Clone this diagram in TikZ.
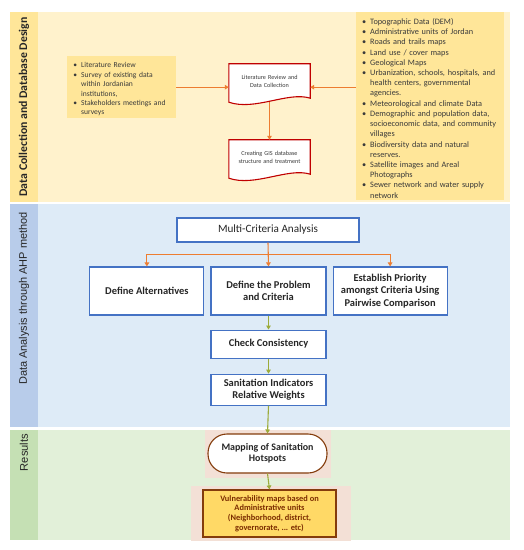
\documentclass[tikz,border=0pt]{standalone}
\usepackage{fontspec}
\setmainfont{Carlito}
\newfontfamily\arialfont{Liberation Sans}
\usepackage{enumitem}
\usetikzlibrary{positioning}
\usetikzlibrary{calc}
\usetikzlibrary{arrows.meta}

\definecolor{bandyellow}{HTML}{FFF2CC}
\definecolor{stripyellow}{HTML}{FFE699}
\definecolor{bandblue}{HTML}{DEEBF7}
\definecolor{stripblue}{HTML}{B8CCEA}
\definecolor{bandgreen}{HTML}{E2F0D9}
\definecolor{stripgreen}{HTML}{C5E0B4}
\definecolor{edgeorange}{HTML}{ED7D31}
\definecolor{edgeolive}{HTML}{9CAB3A}
\definecolor{boxblue}{HTML}{4472C4}
\definecolor{docred}{HTML}{C00000}
\definecolor{hotbrown}{HTML}{843C0C}
\definecolor{vulnfill}{HTML}{FFD966}
\definecolor{vulntext}{HTML}{7B2C00}
\definecolor{glowpink}{HTML}{F3E0D6}
\definecolor{textgray}{HTML}{3A3A3A}
\definecolor{textdark}{HTML}{262626}

\pgfdeclarelayer{back}
\pgfsetlayers{back,main}

\newlist{srclist}{itemize}{1}
\setlist[srclist]{label=\textbullet, leftmargin=8bp, labelsep=4bp, itemsep=0pt, parsep=0pt, topsep=0pt, partopsep=0pt}

\tikzset{
  srcbox/.style={fill=stripyellow, text=textgray, anchor=north west, inner xsep=6bp, inner ysep=2bp},
  docbox/.style={draw=none, minimum width=81bp, minimum height=34bp, text width=79bp, align=center, text=textgray, font=\fontsize{6.2}{8}\selectfont, inner sep=0pt},
  docline/.style={draw=docred, line width=1.1bp, fill=white},
  ahpbox/.style={draw=boxblue, line width=1.1bp, fill=white, align=center, text=textdark, inner sep=1bp, font=\bfseries\fontsize{10.5}{12.3}\selectfont},
  bandtitle/.style={rotate=90, text=textdark},
  orangeedge/.style={draw=edgeorange, line width=1.1bp, -{Triangle[width=4.5bp,length=4bp]}},
  oliveedge/.style={draw=edgeolive, line width=1.1bp, -{Triangle[width=4.5bp,length=4bp]}},
}

\begin{document}
\begin{tikzpicture}[x=1bp, y=-1bp]

    \useasboundingbox (0,0) rectangle (524,550) ; %

    % bands
    \begin{pgfonlayer}{back}
    \fill[bandyellow] (10,12) rectangle (510,202.5) ; %
    \fill[stripyellow] (10,12) rectangle (38,202.5) ; %
    \fill[bandblue] (10,204) rectangle (510,427) ; %
    \fill[stripblue] (10,204) rectangle (38,427) ; %
    \fill[bandgreen] (10,430) rectangle (510,540) ; %
    \fill[stripgreen] (10,430) rectangle (38,540) ; %
    \end{pgfonlayer}

    \node[bandtitle, font=\bfseries\fontsize{11.8}{13}\selectfont] (title_data) at (24,107) {Data Collection and Database Design} ; %
    \node[bandtitle, font=\arialfont\fontsize{11}{12}\selectfont] (title_ahp) at (24,298.5) {Data Analysis through AHP method} ; %
    \node[bandtitle, font=\arialfont\fontsize{11.2}{13}\selectfont] (title_res) at (24,452.5) {Results} ; %

    % data collection
    \node[srcbox, text width=97bp, minimum height=57bp, font=\fontsize{7.6}{9.5}\selectfont] (src_left) at (67,56) {%
      \begin{srclist}
        \item Literature Review
        \item Survey of existing data\newline within Jordanian\newline institutions,
        \item Stakeholders meetings and\newline surveys
      \end{srclist}} ; %
    \node[srcbox, text width=136bp, minimum height=188bp, font=\fontsize{8.3}{10.25}\selectfont] (src_right) at (356,12) {%
      \begin{srclist}
        \item Topographic Data (DEM)
        \item Administrative units of Jordan
        \item Roads and trails maps
        \item Land use / cover maps
        \item Geological Maps
        \item Urbanization, schools, hospitals, and\newline health centers, governmental\newline agencies.
        \item Meteorological and climate Data
        \item Demographic and population data,\newline socioeconomic data, and community\newline villages
        \item Biodiversity data and natural\newline reserves.
        \item Satellite images and Areal\newline Photographs
        \item Sewer network and water supply\newline network
      \end{srclist}} ; %

    \node[docbox] (litrev) at (269.5,81) {Literature Review and\\Data Collection} ; %
    \node[docbox] (gis) at (269.5,157) {Creating GIS database\\structure and treatment} ; %

    \begin{pgfonlayer}{back}
    \draw[docline] ($(litrev.south west)+(0,4)$) -- (litrev.north west) -- (litrev.north east) -- (litrev.south east)
      .. controls +(-22,-7) and +(26,9) .. ($(litrev.south west)+(0,4)$) -- cycle ; %
    \draw[docline] ($(gis.south west)+(0,4)$) -- (gis.north west) -- (gis.north east) -- (gis.south east)
      .. controls +(-22,-7) and +(26,9) .. ($(gis.south west)+(0,4)$) -- cycle ; %
    \end{pgfonlayer}

    \draw[orangeedge] (src_left.east) -- (src_left.east -| litrev.west) ; %
    \draw[orangeedge] (src_right.west |- src_left.east) -- (litrev.east |- src_left.east) ; %
    \draw[orangeedge] ($(litrev.south)+(0,4)$) -- (gis.north) ; %

    % AHP
    \node[ahpbox, minimum width=182bp, minimum height=24bp, font=\fontsize{11.2}{12}\selectfont] (mca) at (268,230) {Multi-Criteria Analysis} ; %
    \node[ahpbox, minimum width=115bp, minimum height=48bp] (prob) at (268.5,291) {Define the Problem\\and Criteria} ; %
    \node[ahpbox, minimum width=114bp, minimum height=48bp, left=6bp of prob] (alt) {Define Alternatives} ; %
    \node[ahpbox, minimum width=114bp, minimum height=48bp, right=6bp of prob] (prio) {Establish Priority\\amongst Criteria Using\\Pairwise Comparison} ; %
    \node[ahpbox, minimum width=115bp, minimum height=28bp, below=14bp of prob] (cons) {Check Consistency} ; %
    \node[ahpbox, minimum width=115bp, minimum height=31bp, below=15bp of cons] (wts) {Sanitation Indicators\\Relative Weights} ; %

    \coordinate (fork) at ($(mca.south)+(0,12)$) ; %
    \draw[orangeedge] (mca.south) -- (prob.north) ; %
    \draw[orangeedge] (fork) -| (alt.north) ; %
    \draw[orangeedge] (fork) -| (prio.north) ; %

    \draw[oliveedge] (prob.south) -- (cons.north) ; %
    \draw[oliveedge] (cons.south) -- (wts.north) ; %

    % results
    \node[draw=hotbrown, line width=1.1bp, fill=white, rounded corners=19bp, minimum width=119bp, minimum height=39bp, align=center, text=textdark, font=\bfseries\fontsize{10}{10.8}\selectfont] (hot) at (267.5,453.5) {Mapping of Sanitation\\Hotspots} ; %
    \node[draw=hotbrown, line width=1.1bp, fill=vulnfill, minimum width=133bp, minimum height=47bp, align=center, text=vulntext, font=\bfseries\fontsize{8.4}{9.6}\selectfont] (vuln) at (269.5,513.5) {Vulnerability maps based on\\Administrative units\\(Neighborhood, district,\\governorate, ... etc)} ; %

    \begin{pgfonlayer}{back}
    \fill[glowpink] ($(hot.north west)+(-2,-3)$) rectangle ($(hot.south east)+(3,4)$) ; %
    \fill[glowpink] ($(vuln.north west)+(-11,-3)$) rectangle ($(vuln.south east)+(14,3)$) ; %
    \end{pgfonlayer}

    \draw[oliveedge] (wts.south) -- (hot.north) ; %
    \draw[oliveedge] (hot.south) -- (vuln.north) ; %

\end{tikzpicture}
\end{document}
